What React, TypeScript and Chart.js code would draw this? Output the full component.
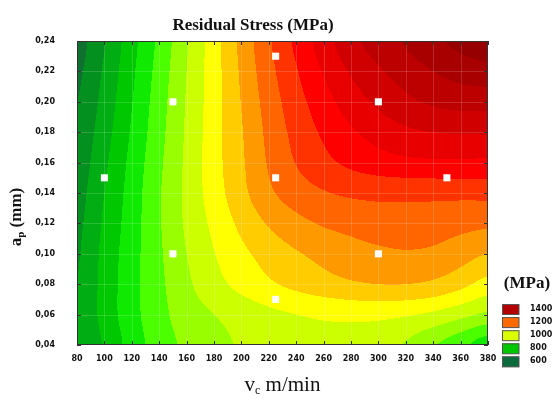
import React, { useEffect, useRef } from 'react';
import { Chart, registerables } from 'chart.js';

Chart.register(...registerables);

// Grid of the response surface (MPa)
const vcGrid = [80, 100, 120, 140, 160, 180, 200, 220, 240, 260, 280, 300, 320, 340, 360, 380];
const apGrid = [0.04, 0.06, 0.08, 0.1, 0.12, 0.14, 0.16, 0.18, 0.2, 0.22, 0.24];

const stressAp004 = [754, 805, 872, 925, 960, 985, 1005, 1020, 1030, 1035, 1032, 1020, 995, 955, 915, 870];
const stressAp006 = [753, 818, 882, 933, 975, 1000, 1020, 1038, 1050, 1058, 1062, 1062, 1055, 1040, 1015, 990];
const stressAp008 = [750, 818, 882, 938, 990, 1032, 1065, 1092, 1113, 1130, 1143, 1150, 1150, 1140, 1115, 1080];
const stressAp010 = [745, 815, 880, 942, 1000, 1048, 1088, 1120, 1145, 1165, 1180, 1190, 1195, 1190, 1172, 1150];
const stressAp012 = [739, 808, 876, 945, 1008, 1062, 1112, 1155, 1185, 1205, 1216, 1225, 1228, 1224, 1216, 1210];
const stressAp014 = [731, 800, 872, 945, 1012, 1075, 1135, 1190, 1225, 1246, 1258, 1263, 1264, 1264, 1264, 1265];
const stressAp016 = [722, 790, 865, 940, 1010, 1080, 1142, 1205, 1252, 1286, 1311, 1328, 1338, 1342, 1342, 1340];
const stressAp018 = [712, 779, 856, 933, 1007, 1079, 1146, 1213, 1266, 1308, 1343, 1370, 1390, 1400, 1404, 1405];
const stressAp020 = [700, 768, 848, 927, 1004, 1078, 1152, 1222, 1280, 1330, 1375, 1410, 1438, 1458, 1468, 1470];
const stressAp022 = [690, 758, 840, 920, 1000, 1078, 1158, 1233, 1296, 1354, 1405, 1443, 1473, 1500, 1520, 1530];
const stressAp024 = [680, 747, 832, 912, 995, 1078, 1164, 1243, 1311, 1376, 1434, 1474, 1506, 1537, 1565, 1585];

// Design points (white squares)
const designVc = [100, 150, 150, 225, 225, 225, 300, 300, 350];
const designAp = [0.15, 0.2, 0.1, 0.23, 0.15, 0.07, 0.2, 0.1, 0.15];

// Contour bands: lower bound and colour
const bandLevels = [600, 650, 700, 750, 800, 850, 900, 950, 1000, 1050, 1100, 1150, 1200, 1250, 1300, 1350, 1400, 1450, 1500, 1550];
const bandColors = ['#0a5e30', '#10702f', '#04901f', '#00ad12', '#00c800', '#10ea00', '#4cff00', '#99ff00', '#ccff00', '#ffff00', '#ffcc00', '#ff9900', '#ff6600', '#ff3300', '#ff0000', '#e80000', '#d00000', '#bc0000', '#a80000', '#960000'];

// Legend
const legendValues = [1400, 1200, 1000, 800, 600];
const legendColors = ['#b30000', '#ff6a00', '#d9ff00', '#00c800', '#0b6b3a'];

const stressRows = [stressAp004, stressAp006, stressAp008, stressAp010, stressAp012, stressAp014, stressAp016, stressAp018, stressAp020, stressAp022, stressAp024];

function hexToRgb(h: string) {
  const n = parseInt(h.slice(1), 16);
  return [(n >> 16) & 255, (n >> 8) & 255, n & 255];
}

function cr(p0: number, p1: number, p2: number, p3: number, t: number) {
  return 0.5 * (2 * p1 + (-p0 + p2) * t + (2 * p0 - 5 * p1 + 4 * p2 - p3) * t * t + (-p0 + 3 * p1 - 3 * p2 + p3) * t * t * t);
}

function sampleStress(vc: number, ap: number) {
  const nx = vcGrid.length;
  const ny = apGrid.length;
  const fx = (vc - vcGrid[0]) / (vcGrid[1] - vcGrid[0]);
  const fy = (ap - apGrid[0]) / (apGrid[1] - apGrid[0]);
  const ix = Math.min(Math.max(Math.floor(fx), 0), nx - 2);
  const iy = Math.min(Math.max(Math.floor(fy), 0), ny - 2);
  const tx = fx - ix;
  const ty = fy - iy;
  const g = (i: number, j: number) => stressRows[Math.min(Math.max(j, 0), ny - 1)][Math.min(Math.max(i, 0), nx - 1)];
  const r: number[] = [];
  for (let m = -1; m <= 2; m++) {
    const j = iy + m;
    r.push(cr(g(ix - 1, j), g(ix, j), g(ix + 1, j), g(ix + 2, j), tx));
  }
  return cr(r[0], r[1], r[2], r[3], ty);
}

const contourPlugin = {
  id: 'contour',
  beforeDatasetsDraw(chart: any) {
    const { ctx, chartArea, scales } = chart;
    const xs = scales.x;
    const ys = scales.y;
    const left = Math.round(chartArea.left);
    const top = Math.round(chartArea.top);
    const w = Math.round(chartArea.right) - left;
    const h = Math.round(chartArea.bottom) - top;
    const rgb = bandColors.map(hexToRgb);
    const off = document.createElement('canvas');
    off.width = w;
    off.height = h;
    const octx = off.getContext('2d') as CanvasRenderingContext2D;
    const img = octx.createImageData(w, h);
    for (let py = 0; py < h; py++) {
      const ap = ys.getValueForPixel(top + py + 0.5);
      for (let px = 0; px < w; px++) {
        const vc = xs.getValueForPixel(left + px + 0.5);
        const v = sampleStress(vc, ap);
        let b = 0;
        for (let k = 0; k < bandLevels.length; k++) if (v >= bandLevels[k]) b = k;
        const c = rgb[b];
        const o = (py * w + px) * 4;
        img.data[o] = c[0];
        img.data[o + 1] = c[1];
        img.data[o + 2] = c[2];
        img.data[o + 3] = 255;
      }
    }
    octx.putImageData(img, 0, 0);
    ctx.save();
    ctx.drawImage(off, left, top);
    // faint mesh lines
    ctx.strokeStyle = 'rgba(255,255,255,0.16)';
    ctx.lineWidth = 1;
    ctx.beginPath();
    for (const t of xs.ticks) {
      const x = Math.round(xs.getPixelForValue(t.value)) + 0.5;
      ctx.moveTo(x, chartArea.top);
      ctx.lineTo(x, chartArea.bottom);
    }
    for (const t of ys.ticks) {
      const y = Math.round(ys.getPixelForValue(t.value)) + 0.5;
      ctx.moveTo(chartArea.left, y);
      ctx.lineTo(chartArea.right, y);
    }
    ctx.stroke();
    ctx.restore();
  },
  afterDatasetsDraw(chart: any) {
    const { ctx, chartArea, scales } = chart;
    const { left, right, top, bottom } = chartArea;
    ctx.save();
    ctx.strokeStyle = '#333';
    ctx.lineWidth = 1;
    ctx.strokeRect(left + 0.5, top + 0.5, right - left - 1, bottom - top - 1);
    ctx.beginPath();
    for (const t of scales.x.ticks) {
      const x = Math.round(scales.x.getPixelForValue(t.value)) + 0.5;
      ctx.moveTo(x, bottom);
      ctx.lineTo(x, bottom - 4);
      ctx.moveTo(x, top);
      ctx.lineTo(x, top + 4);
    }
    for (const t of scales.y.ticks) {
      const y = Math.round(scales.y.getPixelForValue(t.value)) + 0.5;
      ctx.moveTo(left, y);
      ctx.lineTo(left + 4, y);
      ctx.moveTo(right, y);
      ctx.lineTo(right - 4, y);
    }
    ctx.stroke();
    ctx.restore();
  },
  afterDraw(chart: any) {
    const { ctx, chartArea } = chart;
    ctx.save();
    ctx.fillStyle = '#111';
    // main title
    ctx.font = 'bold 17px "Liberation Serif"';
    ctx.textAlign = 'center';
    ctx.textBaseline = 'middle';
    ctx.fillText('Residual Stress (MPa)', 253, 26);

    // x axis title: v_c m/min
    ctx.textBaseline = 'alphabetic';
    ctx.textAlign = 'left';
    const bigX = '21px "Liberation Serif"';
    const smallX = '12px "Liberation Serif"';
    ctx.font = bigX;
    const wv = ctx.measureText('v').width;
    const wrest = ctx.measureText(' m/min').width;
    ctx.font = smallX;
    const wc = ctx.measureText('c').width;
    const cx = (chartArea.left + chartArea.right) / 2;
    const x0 = cx - (wv + wc + wrest) / 2;
    const by = 391;
    ctx.font = bigX;
    ctx.fillText('v', x0, by);
    ctx.font = smallX;
    ctx.fillText('c', x0 + wv, by + 3);
    ctx.font = bigX;
    ctx.fillText(' m/min', x0 + wv + wc, by);

    // y axis title: a_p (mm)
    ctx.save();
    ctx.translate(21, 217);
    ctx.rotate(-Math.PI / 2);
    const bigY = 'bold 17px "Liberation Serif"';
    const smallY = 'bold 11px "Liberation Serif"';
    ctx.font = bigY;
    const wa = ctx.measureText('a').width;
    const wmm = ctx.measureText(' (mm)').width;
    ctx.font = smallY;
    const wp = ctx.measureText('p').width;
    const y0 = -(wa + wp + wmm) / 2;
    ctx.font = bigY;
    ctx.fillText('a', y0, 0);
    ctx.font = smallY;
    ctx.fillText('p', y0 + wa, 3);
    ctx.font = bigY;
    ctx.fillText(' (mm)', y0 + wa + wp, 0);
    ctx.restore();

    // legend
    ctx.font = 'bold 17px "Liberation Serif"';
    ctx.textAlign = 'center';
    ctx.textBaseline = 'middle';
    ctx.fillText('(MPa)', 527, 284);
    ctx.textAlign = 'left';
    ctx.font = 'bold 8px "DejaVu Sans"';
    legendValues.forEach((v, i) => {
      const yTop = 304 + i * 13.1;
      ctx.fillStyle = legendColors[i];
      ctx.fillRect(502, yTop, 17, 10.5);
      ctx.strokeStyle = '#555';
      ctx.lineWidth = 1;
      ctx.strokeRect(502.5, yTop + 0.5, 16.5, 10);
      ctx.fillStyle = '#111';
      ctx.fillText(String(v), 530, yTop + 4.5);
    });
    ctx.restore();
  },
};

export default function App() {
  const ref = useRef<HTMLCanvasElement | null>(null);
  useEffect(() => {
    if (!ref.current) return;
    const chart = new Chart(ref.current, {
      type: 'scatter',
      data: {
        datasets: [
          {
            label: 'Design points',
            data: designVc.map((v, i) => ({ x: v, y: designAp[i] })),
            pointStyle: 'rect',
            pointRadius: 5,
            pointHoverRadius: 5,
            backgroundColor: '#ffffff',
            borderWidth: 0,
          },
        ],
      },
      plugins: [contourPlugin],
      options: {
        animation: false,
        responsive: false,
        devicePixelRatio: 1,
        layout: { padding: { top: 41, right: 67, left: 0, bottom: 0 } },
        plugins: { legend: { display: false }, tooltip: { enabled: false }, title: { display: false } },
        scales: {
          x: {
            type: 'linear',
            min: 80,
            max: 380,
            afterFit: (s: any) => { s.height = 53; },
            grid: { display: false, drawTicks: false },
            border: { display: false },
            ticks: {
              stepSize: 20,
              autoSkip: false,
              maxRotation: 0,
              padding: 9,
              color: '#111',
              font: { family: 'DejaVu Sans', weight: 'bold', size: 8 },
              callback: (v: any) => String(v),
            },
          },
          y: {
            type: 'linear',
            min: 0.04,
            max: 0.24,
            afterFit: (s: any) => { s.width = 77; },
            grid: { display: false, drawTicks: false },
            border: { display: false },
            ticks: {
              stepSize: 0.02,
              autoSkip: false,
              padding: 22,
              color: '#111',
              font: { family: 'DejaVu Sans', weight: 'bold', size: 8 },
              callback: (v: any) => Number(v).toFixed(2).replace('.', ','),
            },
          },
        },
      },
    });
    return () => chart.destroy();
  }, []);
  return (
    <div style={{ position: 'absolute', left: 0, top: 0, width: 555, height: 398, background: '#ffffff' }}>
      <canvas ref={ref} width={555} height={398} style={{ display: 'block' }} />
    </div>
  );
}
